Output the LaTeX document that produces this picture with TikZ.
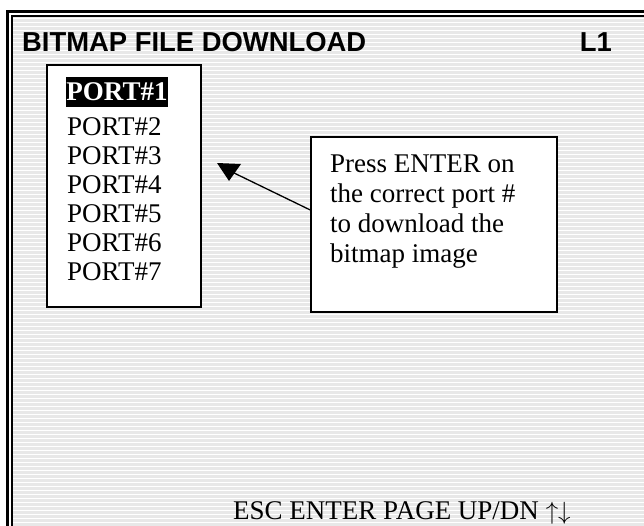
\documentclass[tikz,border=0pt]{standalone}
\usepackage{fontspec}
\setmainfont{Liberation Serif}
\newfontfamily\arialfont{Liberation Sans}
\definecolor{stripegray}{RGB}{232,232,232}
\begin{document}
\begin{tikzpicture}[x=1pt,y=-1pt,
  titletext/.style={font=\arialfont\bfseries\fontsize{27.4}{30}\selectfont, inner sep=0pt},
  panel/.style={draw=black, line width=1.8pt, fill=white, inner sep=0pt},
  porttext/.style={font=\fontsize{27}{29}\selectfont, inner sep=0pt, anchor=base west},
  portsel/.style={fill=black, text=white, font=\bfseries\fontsize{27}{29}\selectfont, inner sep=0pt, minimum width=102pt, minimum height=30pt},
  callouttext/.style={font=\fontsize{27}{30}\selectfont, align=left, inner sep=0pt, anchor=north west},
  bottomtext/.style={font=\fontsize{27}{30}\selectfont, inner sep=0pt, anchor=base west}
]
\useasboundingbox (0,0) rectangle (644,525);
\clip (0,0) rectangle (644,525);
\fill[white] (0,0) rectangle (644,525);
% striped screen background
\fill[stripegray] (13,17) rectangle (650,530);
\foreach \i in {0,...,128} {\fill[white] (13,{18+4*\i}) rectangle (650,{19.3+4*\i});}
% double frame
\draw[line width=3pt] (7,11) rectangle (700,600);
\draw[line width=1.6pt] (12,16) rectangle (700,600);
% title line
\node[titletext, anchor=base west] (title) at (22,51) {BITMAP FILE DOWNLOAD};
\node[titletext, anchor=base east] (level) at (612,51) {L1};
% port list panel
\node[panel, minimum width=154pt, minimum height=242pt] (ports) at (124,186) {};
\node[portsel] (p1) at (117,92) {PORT\#1};
\node[porttext] (p2) at (67,135.5) {PORT\#2};
\node[porttext] (p3) at (67,164.5) {PORT\#3};
\node[porttext] (p4) at (67,193.5) {PORT\#4};
\node[porttext] (p5) at (67,222.5) {PORT\#5};
\node[porttext] (p6) at (67,251.5) {PORT\#6};
\node[porttext] (p7) at (67,280.5) {PORT\#7};
% callout
\node[panel, line width=1.4pt, minimum width=246pt, minimum height=175pt] (callout) at (434,224.5) {};
\node[callouttext] (ctext) at (330,155) {Press ENTER on\\the correct port \#\\to download the\\bitmap image};
\coordinate (tip) at (232,172);
\draw[line width=1.3pt] ([yshift=14.5pt]callout.west) -- (tip);
\fill (217,163) -- (241,164) -- (229,181) -- cycle;
% bottom key line
\node[bottomtext] (keys) at (233,519) {ESC ENTER PAGE UP/DN \(\uparrow\downarrow\)};
\end{tikzpicture}
\end{document}
